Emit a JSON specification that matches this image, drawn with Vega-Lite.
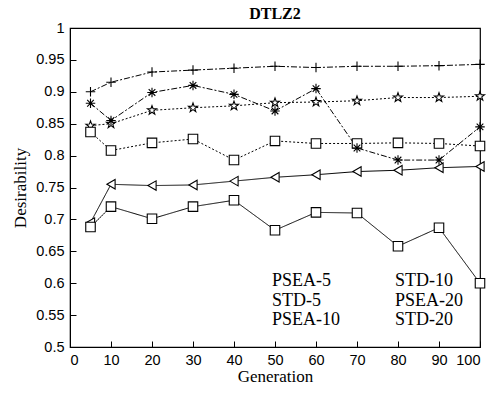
{
  "$schema": "https://vega.github.io/schema/vega-lite/v6.json",
  "autosize": "none",
  "width": 410,
  "height": 319,
  "padding": {"left": 70, "top": 28, "right": 11, "bottom": 46},
  "background": "white",
  "title": {"text": "DTLZ2", "font": "Liberation Serif", "fontSize": 16, "fontWeight": "bold", "color": "black", "offset": -2},
  "data": {"values": [
    {"series": "PSEA-5", "gen": 5, "value": 0.695}, {"series": "PSEA-5", "gen": 10, "value": 0.755}, {"series": "PSEA-5", "gen": 20, "value": 0.753}, {"series": "PSEA-5", "gen": 30, "value": 0.754}, {"series": "PSEA-5", "gen": 40, "value": 0.760}, {"series": "PSEA-5", "gen": 50, "value": 0.766}, {"series": "PSEA-5", "gen": 60, "value": 0.770}, {"series": "PSEA-5", "gen": 70, "value": 0.775}, {"series": "PSEA-5", "gen": 80, "value": 0.777}, {"series": "PSEA-5", "gen": 90, "value": 0.781}, {"series": "PSEA-5", "gen": 100, "value": 0.783},
    {"series": "STD-5", "gen": 5, "value": 0.688}, {"series": "STD-5", "gen": 10, "value": 0.720}, {"series": "STD-5", "gen": 20, "value": 0.701}, {"series": "STD-5", "gen": 30, "value": 0.720}, {"series": "STD-5", "gen": 40, "value": 0.730}, {"series": "STD-5", "gen": 50, "value": 0.683}, {"series": "STD-5", "gen": 60, "value": 0.711}, {"series": "STD-5", "gen": 70, "value": 0.710}, {"series": "STD-5", "gen": 80, "value": 0.658}, {"series": "STD-5", "gen": 90, "value": 0.687}, {"series": "STD-5", "gen": 100, "value": 0.600},
    {"series": "PSEA-10", "gen": 5, "value": 0.847}, {"series": "PSEA-10", "gen": 10, "value": 0.850}, {"series": "PSEA-10", "gen": 20, "value": 0.871}, {"series": "PSEA-10", "gen": 30, "value": 0.875}, {"series": "PSEA-10", "gen": 40, "value": 0.878}, {"series": "PSEA-10", "gen": 50, "value": 0.883}, {"series": "PSEA-10", "gen": 60, "value": 0.884}, {"series": "PSEA-10", "gen": 70, "value": 0.886}, {"series": "PSEA-10", "gen": 80, "value": 0.891}, {"series": "PSEA-10", "gen": 90, "value": 0.891}, {"series": "PSEA-10", "gen": 100, "value": 0.893},
    {"series": "STD-10", "gen": 5, "value": 0.837}, {"series": "STD-10", "gen": 10, "value": 0.808}, {"series": "STD-10", "gen": 20, "value": 0.820}, {"series": "STD-10", "gen": 30, "value": 0.826}, {"series": "STD-10", "gen": 40, "value": 0.793}, {"series": "STD-10", "gen": 50, "value": 0.823}, {"series": "STD-10", "gen": 60, "value": 0.819}, {"series": "STD-10", "gen": 70, "value": 0.819}, {"series": "STD-10", "gen": 80, "value": 0.820}, {"series": "STD-10", "gen": 90, "value": 0.819}, {"series": "STD-10", "gen": 100, "value": 0.815},
    {"series": "PSEA-20", "gen": 5, "value": 0.900}, {"series": "PSEA-20", "gen": 10, "value": 0.915}, {"series": "PSEA-20", "gen": 20, "value": 0.931}, {"series": "PSEA-20", "gen": 30, "value": 0.934}, {"series": "PSEA-20", "gen": 40, "value": 0.937}, {"series": "PSEA-20", "gen": 50, "value": 0.940}, {"series": "PSEA-20", "gen": 60, "value": 0.938}, {"series": "PSEA-20", "gen": 70, "value": 0.940}, {"series": "PSEA-20", "gen": 80, "value": 0.940}, {"series": "PSEA-20", "gen": 90, "value": 0.941}, {"series": "PSEA-20", "gen": 100, "value": 0.943},
    {"series": "STD-20", "gen": 5, "value": 0.882}, {"series": "STD-20", "gen": 10, "value": 0.855}, {"series": "STD-20", "gen": 20, "value": 0.899}, {"series": "STD-20", "gen": 30, "value": 0.910}, {"series": "STD-20", "gen": 40, "value": 0.896}, {"series": "STD-20", "gen": 50, "value": 0.870}, {"series": "STD-20", "gen": 60, "value": 0.905}, {"series": "STD-20", "gen": 70, "value": 0.812}, {"series": "STD-20", "gen": 80, "value": 0.793}, {"series": "STD-20", "gen": 90, "value": 0.793}, {"series": "STD-20", "gen": 100, "value": 0.845}
  ]},
  "encoding": {
    "x": {"field": "gen", "type": "quantitative", "title": "Generation", "scale": {"domain": [0, 100], "nice": false}, "axis": {"values": [0,10,20,30,40,50,60,70,80,90,100], "titlePadding": 2}},
    "y": {"field": "value", "type": "quantitative", "title": "Desirability", "scale": {"domain": [0.5, 1], "nice": false, "zero": false}, "axis": {"values": [0.5,0.55,0.6,0.65,0.7,0.75,0.8,0.85,0.9,0.95,1], "format": "~g", "titlePadding": 6}}
  },
  "layer": [
    {
      "mark": {"type": "line", "color": "black", "strokeWidth": 1},
      "encoding": {
        "detail": {"field": "series"},
        "strokeDash": {"condition": [
          {"test": "datum.series === 'PSEA-10' || datum.series === 'STD-10'", "value": [2, 2]},
          {"test": "datum.series === 'PSEA-20' || datum.series === 'STD-20'", "value": [6, 2, 2, 2]}
        ], "value": [1, 0]}
      }
    },
    {
      "mark": {"type": "point", "filled": false, "color": "black", "fill": "white", "fillOpacity": 1, "strokeWidth": 1.1, "size": 90, "opacity": 1},
      "encoding": {
        "shape": {"field": "series", "type": "nominal",
          "scale": {"domain": ["PSEA-5", "STD-5", "PSEA-10", "STD-10", "PSEA-20", "STD-20"],
            "range": ["triangle-left", "square", "M0,-1L0.235,-0.324L0.951,-0.309L0.380,0.124L0.588,0.809L0,0.4L-0.588,0.809L-0.380,0.124L-0.951,-0.309L-0.235,-0.324Z", "square", "M-1,0L1,0M0,-1L0,1", "M-1,0L1,0M0,-1L0,1M-0.7,-0.7L0.7,0.7M-0.7,0.7L0.7,-0.7"]},
          "legend": {"symbolOpacity": 1, "symbolStrokeColor": "black", "symbolFillColor": "white", "symbolStrokeWidth": 1.1, "symbolSize": 80,
            "encode": {"symbols": {"update": {"stroke": {"value": "black"}, "strokeOpacity": {"value": 1}, "fill": {"value": "white"}, "fillOpacity": {"value": 1}, "opacity": {"value": 1}, "strokeWidth": {"value": 1.1}, "size": {"value": 80}}}}}
        }
      }
    }
  ],
  "config": {
    "view": {"stroke": "black", "strokeWidth": 1.2},
    "axis": {"domainColor": "black", "tickColor": "black", "grid": false, "labelFont": "Liberation Sans", "labelFontSize": 14.5, "labelColor": "black", "titleFont": "Liberation Serif", "titleFontSize": 17, "titleFontWeight": "normal", "titleColor": "black", "tickSize": -6, "labelPadding": 12},
    "legend": {"title": null, "orient": "none", "legendX": 170, "legendY": 244, "padding": 0, "columns": 2, "columnPadding": 22, "rowPadding": 1.5, "labelFont": "Liberation Serif", "labelFontSize": 18, "labelColor": "black", "labelOffset": 14}
  }
}
